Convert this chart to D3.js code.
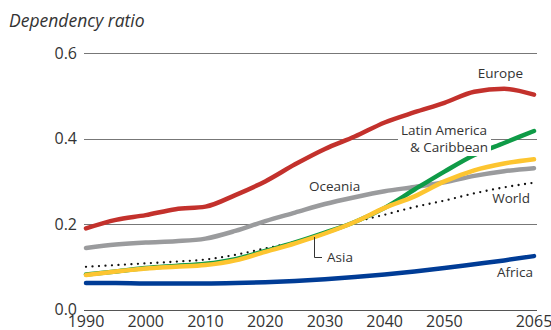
<!DOCTYPE html>
<html>
<head>
<meta charset="utf-8">
<script src="https://cdn.jsdelivr.net/npm/d3@7"></script>
<style>
  body { margin: 0; background: #fff; }
  text { font-family: "Open Sans", "Noto Sans", sans-serif; fill: #333; }
</style>
</head>
<body>
<div id="chart"></div>
<script>
const years = [1990, 1995, 2000, 2005, 2010, 2015, 2020, 2025, 2030, 2035, 2040, 2045, 2050, 2055, 2060, 2065];
const europe  = [0.190, 0.210, 0.221, 0.235, 0.241, 0.268, 0.300, 0.340, 0.376, 0.405, 0.438, 0.462, 0.484, 0.510, 0.517, 0.503];
const oceania = [0.144, 0.152, 0.157, 0.160, 0.166, 0.184, 0.207, 0.227, 0.247, 0.263, 0.277, 0.287, 0.298, 0.313, 0.324, 0.331];
const latam   = [0.082, 0.089, 0.097, 0.102, 0.107, 0.118, 0.137, 0.157, 0.180, 0.205, 0.238, 0.281, 0.323, 0.362, 0.390, 0.418];
const asia    = [0.081, 0.089, 0.096, 0.100, 0.104, 0.115, 0.135, 0.155, 0.178, 0.205, 0.238, 0.265, 0.300, 0.326, 0.342, 0.352];
const world   = [0.100, 0.104, 0.108, 0.112, 0.117, 0.128, 0.143, 0.158, 0.178, 0.204, 0.222, 0.240, 0.255, 0.272, 0.286, 0.297];
const africa  = [0.062, 0.062, 0.061, 0.061, 0.061, 0.062, 0.064, 0.067, 0.071, 0.076, 0.082, 0.089, 0.097, 0.106, 0.115, 0.125];
const yTicks = [0, 0.2, 0.4, 0.6];
const xTicks = [1990, 2000, 2010, 2020, 2030, 2040, 2050, 2065];

const width = 551, height = 330;

const x = d3.scaleLinear().domain([1990, 2065]).range([86, 534]);
const y = d3.scaleLinear().domain([0, 0.6]).range([309.5, 53.3]);

const svg = d3.select("#chart").append("svg")
  .attr("width", width)
  .attr("height", height);

// title
svg.append("text")
  .attr("x", 9).attr("y", 27)
  .style("font-size", "17.5px")
  .style("font-style", "italic")
  .text("Dependency ratio");

// grid
svg.append("g").selectAll("line")
  .data(yTicks)
  .join("line")
  .attr("x1", 84).attr("x2", 537)
  .attr("y1", d => Math.round(y(d)) + 0.5)
  .attr("y2", d => Math.round(y(d)) + 0.5)
  .attr("stroke", d => d === 0 ? "#555" : "#777")
  .attr("stroke-width", 1);

svg.append("g").selectAll("text")
  .data(yTicks)
  .join("text")
  .attr("x", 77)
  .attr("y", d => y(d) + 5.5)
  .attr("text-anchor", "end")
  .style("font-size", "16px")
  .text(d => d.toFixed(1));

svg.append("g").selectAll("text")
  .data(xTicks)
  .join("text")
  .attr("x", d => x(d))
  .attr("y", 326.5)
  .attr("text-anchor", "middle")
  .style("font-size", "16px")
  .text(d => d);

const line = d3.line()
  .x((d, i) => x(years[i]))
  .y(d => y(d))
  .curve(d3.curveMonotoneX);

const series = [
  { name: "Africa", values: africa, color: "#003c96" },
  { name: "Oceania", values: oceania, color: "#9a9b9d" },
  { name: "Europe", values: europe, color: "#c3312c" },
  { name: "World", values: world, color: "#111", dotted: true },
  { name: "Latin America", values: latam, color: "#0f9b47" },
  { name: "Asia", values: asia, color: "#fdc530" }
];

svg.append("g").selectAll("path")
  .data(series)
  .join("path")
  .attr("d", d => line(d.values))
  .attr("fill", "none")
  .attr("stroke", d => d.color)
  .attr("stroke-width", d => d.dotted ? 2.3 : 4.5)
  .attr("stroke-dasharray", d => d.dotted ? "0,6.5" : null)
  .attr("stroke-linecap", "round");

// labels
const labels = svg.append("g").style("font-size", "13.5px");

labels.append("rect")
  .attr("x", 398).attr("y", 124).attr("width", 93).attr("height", 32)
  .attr("fill", "#fff");
labels.append("text").attr("x", 444).attr("y", 135).attr("text-anchor", "middle").text("Latin America");
labels.append("text").attr("x", 449).attr("y", 152).attr("text-anchor", "middle").text("& Caribbean");
labels.append("text").attr("x", 523).attr("y", 78).attr("text-anchor", "end").text("Europe");
labels.append("text").attr("x", 309).attr("y", 191).text("Oceania");
labels.append("text").attr("x", 530).attr("y", 203).attr("text-anchor", "end").text("World");
labels.append("text").attr("x", 533).attr("y", 277).attr("text-anchor", "end").text("Africa");
labels.append("text").attr("x", 327).attr("y", 262).text("Asia");

svg.append("path")
  .attr("d", "M314.5,237V257.5H322")
  .attr("fill", "none")
  .attr("stroke", "#333")
  .attr("stroke-width", 1);
</script>
</body>
</html>
